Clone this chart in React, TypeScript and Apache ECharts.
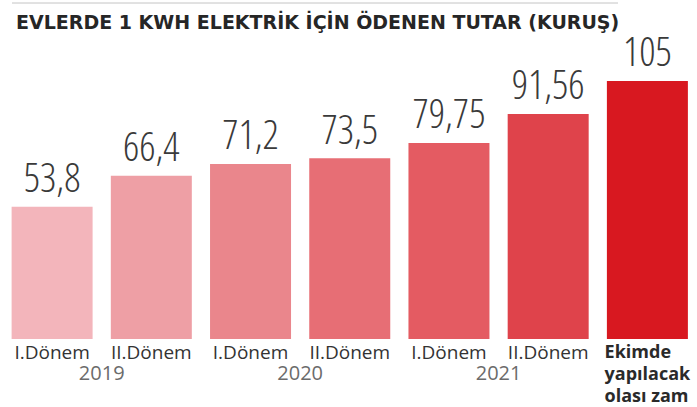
import React, { useEffect, useRef } from "react";
import * as echarts from "echarts";

const titleText = "EVLERDE 1 KWH ELEKTRİK İÇİN ÖDENEN TUTAR (KURUŞ)";
const categories = [
  "I.Dönem",
  "II.Dönem",
  "I.Dönem",
  "II.Dönem",
  "I.Dönem",
  "II.Dönem",
  "Ekimde\nyapılacak\nolası zam",
];
const values = [53.8, 66.4, 71.2, 73.5, 79.75, 91.56, 105];
const years = ["2019", "2020", "2021"];
const yearPositions = [1, 3, 5];
const barColors = [
  "#f3b5bb",
  "#ee9fa5",
  "#ea868c",
  "#e76e75",
  "#e45b62",
  "#df434b",
  "#d81820",
];

export default function App() {
  const ref = useRef<HTMLDivElement>(null);

  useEffect(() => {
    if (!ref.current) return;
    const chart = echarts.init(ref.current, null, { renderer: "svg" });
    const lastIdx = categories.length - 1;

    chart.setOption({
      animation: false,
      backgroundColor: "#ffffff",
      title: {
        text: titleText,
        left: 11,
        top: 7,
        textStyle: {
          fontFamily: "DejaVu Sans",
          fontWeight: "bold",
          fontSize: 19,
          color: "#262626",
        },
      },
      graphic: [
        {
          type: "line",
          shape: { x1: 12, y1: 3, x2: 618, y2: 3 },
          style: { stroke: "#c4c4c4", lineWidth: 1 },
        },
      ],
      grid: { left: 2.5, right: -6, top: 44, bottom: 68 },
      xAxis: [
        {
          type: "category",
          data: categories,
          axisLine: { show: false },
          axisTick: { show: false },
          axisLabel: {
            interval: 0,
            margin: 1,
            formatter: (val: string, idx: number) =>
              idx === lastIdx
                ? val
                    .split("\n")
                    .map((l) => `{b|${l}}`)
                    .join("\n")
                : `{n|${val}}`,
            rich: {
              n: {
                fontFamily: "Open Sans",
                fontSize: 19,
                color: "#333333",
                lineHeight: 24,
              },
              b: {
                fontFamily: "Open Sans",
                fontWeight: "bold",
                fontSize: 18,
                lineHeight: 22,
                color: "#2a2a2a",
                align: "left",
              },
            },
          },
        },
        {
          type: "value",
          position: "bottom",
          offset: 20,
          min: 0,
          max: categories.length,
          axisLine: { show: false },
          axisTick: { show: false },
          splitLine: { show: false },
          axisLabel: {
            margin: 3,
            customValues: yearPositions,
            fontFamily: "Open Sans",
            fontSize: 20,
            color: "#6b6b6b",
            formatter: (v: number) => {
              const i = yearPositions.indexOf(Math.round(v));
              return i >= 0 ? years[i] : "";
            },
          },
        },
      ],
      yAxis: {
        type: "value",
        min: 0,
        max: 120,
        show: false,
        splitLine: { show: false },
      },
      series: [
        {
          type: "bar",
          xAxisIndex: 0,
          barWidth: 81,
          data: values.map((v, i) => ({
            value: v,
            itemStyle: { color: barColors[i] },
          })),
          label: {
            show: true,
            position: "top",
            distance: 10,
            fontFamily: "'Open Sans';font-stretch:82%",
            fontWeight: 300,
            fontSize: 40,
            lineHeight: 40,
            color: "#3a3a3a",
            formatter: (p: any) => String(p.value).replace(".", ","),
          },
        },
      ],
    });

    return () => chart.dispose();
  }, []);

  return (
    <div
      ref={ref}
      style={{
        position: "absolute",
        left: 0,
        top: 0,
        width: 697,
        height: 407,
        background: "#ffffff",
      }}
    />
  );
}
